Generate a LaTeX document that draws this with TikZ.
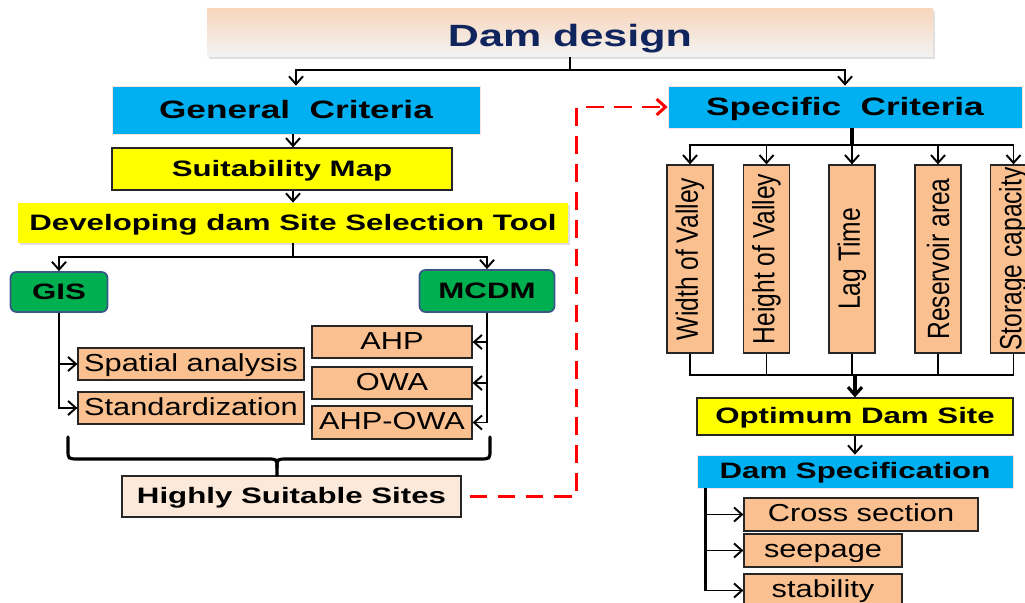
\documentclass[tikz,border=0pt]{standalone}
\usepackage{fontspec}
\setmainfont{Liberation Sans}
\newfontfamily\widebold[FakeStretch=1.4]{Liberation Sans}
\newfontfamily\wideplain[FakeStretch=1.25]{Liberation Sans}
\newfontfamily\narrowplain[FakeStretch=0.8]{Liberation Sans}
\usetikzlibrary{arrows.meta,shadows}
\definecolor{critblue}{RGB}{0,176,240}
\definecolor{mapyellow}{RGB}{255,255,0}
\definecolor{toolgreen}{RGB}{0,176,80}
\definecolor{greenedge}{RGB}{56,87,135}
\definecolor{stepfill}{RGB}{250,192,144}
\definecolor{sitefill}{RGB}{253,233,217}
\definecolor{titlenavy}{RGB}{16,37,94}
\definecolor{titletop}{RGB}{248,214,188}
\definecolor{titlemid}{RGB}{208,208,208}
\definecolor{titlebot}{RGB}{243,243,243}
\tikzset{
  wh/.style 2 args={minimum width=#1*0.2mm, minimum height=#2*0.2mm},
  boldtxt/.style={font=\widebold\bfseries\fontsize{12.7}{14}\selectfont, text height=10.5pt, text depth=2pt},
  crittxt/.style={font=\widebold\bfseries\fontsize{14.3}{16}\selectfont, text height=11.5pt, text depth=1.3pt},
  plaintxt/.style={font=\wideplain\fontsize{14}{16}\selectfont, text height=11pt, text depth=2.5pt},
  titlebox/.style={inner sep=0pt, top color=titletop, middle color=titlemid, bottom color=titlebot,
    drop shadow={shadow xshift=0.3mm, shadow yshift=-0.4mm, opacity=0.25},
    font=\widebold\bfseries\fontsize{17.5}{20}\selectfont, text=titlenavy,
    text height=16.5pt, text depth=0.6pt},
  bluebox/.style={inner sep=0pt, fill=critblue, draw=red!12, line width=0.4pt},
  ybox/.style={inner sep=0pt, fill=mapyellow, draw=black!85, line width=0.7pt, boldtxt},
  devbox/.style={inner sep=0pt, fill=mapyellow, boldtxt,
    drop shadow={shadow xshift=0.3mm, shadow yshift=-0.4mm, opacity=0.25}},
  gbox/.style={inner sep=0pt, fill=toolgreen, draw=greenedge, line width=1pt, rounded corners=1.2mm, boldtxt},
  pbox/.style={inner sep=0pt, fill=stepfill, draw=black!85, line width=0.7pt, plaintxt},
  sitebox/.style={inner sep=0pt, fill=sitefill, draw=black!85, line width=0.7pt, boldtxt},
  vbox/.style={inner sep=0pt, fill=stepfill, draw=black!85, line width=0.7pt, wh={46}{188},
    font=\narrowplain\fontsize{17.5}{17.5}\selectfont},
  conn/.style={line width=1.1pt, black},
  heavy/.style={line width=1.8pt, black},
  arr/.style={conn, -{Straight Barb[length=4.5pt, width=8pt]}},
  heavyarr/.style={heavy, -{Straight Barb[length=4.5pt, width=8pt]}},
  brace/.style={line width=1.8pt, line cap=round},
  reddash/.style={red, line width=1.7pt, dash pattern=on 10pt off 6pt,
    -{Straight Barb[length=5pt, width=9pt]}}
}
\begin{document}
\begin{tikzpicture}[x=0.2mm, y=-0.2mm]
  \useasboundingbox (0,0) rectangle (1025,603);
  \clip (0,0) rectangle (1025,603);
  % left branch
  \node [titlebox, wh={726}{48}] (title) at (570,33) {Dam design};
  \node [bluebox, crittxt, wh={368}{48}] (gen) at (296,110) {General\ \ Criteria};
  \node [ybox, wh={340}{42}] (suit) at (282,169) {Suitability Map};
  \node [devbox, wh={550}{40}] (dev) at (293,223) {Developing dam Site Selection Tool};
  \node [gbox, wh={97}{40}] (gis) at (59,292) {GIS};
  \node [gbox, wh={135}{42}] (mcdm) at (487,291) {MCDM};
  \node [pbox, wh={226}{32}] (spa) at (191,364) {Spatial analysis};
  \node [pbox, wh={226}{32}] (std) at (191,408) {Standardization};
  \node [pbox, wh={160}{32}] (ahp) at (392,342) {AHP};
  \node [pbox, wh={160}{32}] (owa) at (392,383) {OWA};
  \node [pbox, wh={160}{33}] (ahpowa) at (392,422.5) {AHP-OWA};
  \node [sitebox, wh={339}{41}] (high) at (291.5,496.5) {Highly Suitable Sites};
  % right branch
  \node [bluebox, crittxt, wh={354}{42}] (spec) at (845,107) {Specific\ \ Criteria};
  \node [vbox] (wv) at (690,259) {\rotatebox{90}{Width of Valley}};
  \node [vbox] (hv) at (766.5,259) {\rotatebox{90}{Height of Valley}};
  \node [vbox] (lt) at (852,259) {\rotatebox{90}{Lag Time}};
  \node [vbox] (ra) at (938,259) {\rotatebox{90}{Reservoir area}};
  \node [vbox] (sc) at (1013.5,259) {\rotatebox{90}{Storage capacity}};
  \node [ybox, wh={316}{37}] (opt) at (855,416.5) {Optimum Dam Site};
  \node [bluebox, boldtxt, wh={316}{33}] (dspec) at (855,471.5) {Dam Specification};
  \node [pbox, wh={234}{33}] (cross) at (861,514.5) {Cross section};
  \node [pbox, wh={158}{33}] (seep) at (823,550.5) {seepage};
  \node [pbox, wh={158}{33}] (stab) at (823,590.5) {stability};

  \draw [conn] (title.south) -- ++(0,13) coordinate (tsplit);
  \draw [arr] (tsplit) -| (gen.north);
  \draw [arr] (tsplit) -| (spec.north);
  \draw [arr] (gen.south -| dev.north) -- (suit.north -| dev.north);
  \draw [arr] (suit.south -| dev.north) -- (dev.north);
  \draw [conn] (dev.south) -- ++(0,14) coordinate (dsplit);
  \draw [arr] (dsplit) -| (gis.north);
  \draw [arr] (dsplit) -| (mcdm.north);
  \foreach \b in {spa,std} \draw [arr] (gis.south) |- (\b.west);
  \foreach \b in {ahp,owa,ahpowa} \draw [arr] (mcdm.south) |- (\b.east);

  \coordinate (bl) at (68,437);
  \coordinate (br) at (490,437);
  \coordinate (btip) at (277,468);
  \draw [brace] (bl) -- (68,450) .. controls (68,459) .. (79,459) -- (267,459)
    .. controls (277,459) .. (btip) -- (btip |- high.north);
  \draw [brace] (br) -- (490,450) .. controls (490,459) .. (479,459) -- (287,459)
    .. controls (277,459) .. (btip);
  \draw [reddash] ([xshift=1.6mm]high.east) -- ++(107,0) |- (spec.west);

  \draw [heavy] (lt.north |- spec.south) -- ++(0,17) coordinate (ssplit);
  \foreach \b in {wv,hv,lt,ra,sc} \draw [arr] (ssplit) -| (\b.north);
  \path (opt.north) ++(0,-22) coordinate (osplit);
  \foreach \b in {wv,hv,lt,ra,sc} \draw [conn] (\b.south) |- (osplit);
  \draw [heavyarr] (osplit) -- (opt.north);
  \draw [arr] (opt.south) -- (dspec.north);
  \coordinate (dsl) at ([xshift=1.8mm]dspec.south west);
  \draw [heavy] (dsl) -- (dsl |- stab.west);
  \foreach \b in {cross,seep,stab} \draw [arr] (dsl |- \b.west) -- (\b.west);
\end{tikzpicture}
\end{document}
